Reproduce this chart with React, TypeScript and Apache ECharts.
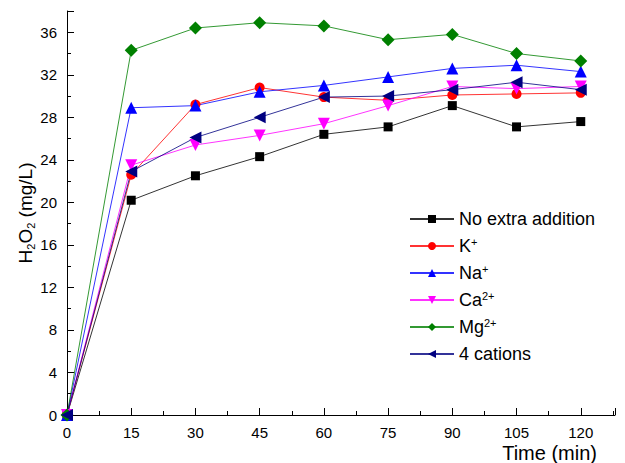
import React, { useEffect, useRef } from "react";
import * as echarts from "echarts";

const times = [0, 15, 30, 45, 60, 75, 90, 105, 120];
const noExtra = [0, 20.2, 22.5, 24.3, 26.4, 27.1, 29.1, 27.1, 27.6];
const kPlus = [0, 22.6, 29.2, 30.8, 29.9, 29.6, 30.1, 30.2, 30.3];
const naPlus = [0, 28.9, 29.1, 30.4, 31.0, 31.8, 32.6, 32.9, 32.3];
const ca2Plus = [0, 23.5, 25.4, 26.3, 27.4, 29.1, 30.9, 30.7, 30.9];
const mg2Plus = [0, 34.3, 36.4, 36.9, 36.6, 35.3, 35.8, 34.0, 33.3];
const fourCations = [0, 22.9, 26.1, 28.0, 29.9, 30.0, 30.6, 31.3, 30.6];

const seriesNames = ["No extra addition", "K+", "Na+", "Ca2+", "Mg2+", "4 cations"];
const legendLabels: Record<string, string> = {
  "No extra addition": "No extra addition",
  "K+": "K{sup|+}",
  "Na+": "Na{sup|+}",
  "Ca2+": "Ca{sup|2+}",
  "Mg2+": "Mg{sup|2+}",
  "4 cations": "4 cations",
};

const FONT = "'Liberation Sans', Arial, sans-serif";

export default function App() {
  const ref = useRef<HTMLDivElement>(null);
  useEffect(() => {
    if (!ref.current) return;
    const chart = echarts.init(ref.current, undefined, { renderer: "svg" });
    const mk = (
      name: string,
      data: number[],
      color: string,
      symbol: string,
      size: number,
      rotate = 0
    ) => ({
      name,
      type: "line",
      data: times.map((t, i) => [t, data[i]]),
      symbol,
      symbolSize: size,
      symbolRotate: rotate,
      lineStyle: { color, width: 1, opacity: 0.8 },
      itemStyle: { color },
      color,
    });
    chart.setOption({
      animation: false,
      backgroundColor: "#ffffff",
      grid: { left: 67, right: 10, top: 11, bottom: 48, outerBoundsMode: "none", containLabel: false },
      xAxis: {
        type: "value",
        min: 0,
        max: 128,
        interval: 15,
        name: "Time (min)",
        nameLocation: "end",
        nameGap: -18,
        nameMoveOverlap: false,
        nameTextStyle: {
          fontFamily: FONT,
          fontSize: 20,
          color: "#000",
          align: "right",
          verticalAlign: "top",
          padding: [28, 0, 0, 0],
        },
        axisLine: { lineStyle: { color: "#000", width: 1 } },
        axisTick: { inside: true, length: 7, lineStyle: { color: "#000" } },
        minorTick: { show: true, splitNumber: 2, length: 4, lineStyle: { color: "#000" } },
        axisLabel: {
          fontFamily: FONT,
          fontSize: 15,
          color: "#000",
          margin: 10,
          showMaxLabel: false,
        },
        splitLine: { show: false },
      },
      yAxis: {
        type: "value",
        min: 0,
        max: 38,
        interval: 4,
        name: "H{sub|2}O{sub|2} (mg/L)",
        nameLocation: "middle",
        nameGap: 31,
        nameMoveOverlap: false,
        nameRotate: 90,
        nameTextStyle: {
          fontFamily: FONT,
          fontSize: 19,
          color: "#000",
          lineHeight: 22,
          rich: {
            sub: {
              fontFamily: FONT,
              fontSize: 11,
              color: "#000",
              verticalAlign: "bottom",
              lineHeight: 11,
            },
          },
        },
        axisLine: { show: true, lineStyle: { color: "#000", width: 1 } },
        axisTick: { inside: true, length: 7, lineStyle: { color: "#000" } },
        minorTick: { show: true, splitNumber: 2, length: 4, lineStyle: { color: "#000" } },
        axisLabel: { fontFamily: FONT, fontSize: 15, color: "#000", margin: 10, showMaxLabel: false },
        splitLine: { show: false },
      },
      legend: {
        orient: "vertical",
        left: 404,
        top: 204,
        itemWidth: 44,
        itemHeight: 10,
        itemGap: 7,
        data: seriesNames,
        formatter: (n: string) => legendLabels[n] ?? n,
        textStyle: {
          fontFamily: FONT,
          fontSize: 18,
          color: "#000",
          lineHeight: 20,
          rich: {
            sup: {
              fontFamily: FONT,
              fontSize: 11,
              color: "#000",
              verticalAlign: "top",
              lineHeight: 11,
            },
          },
        },
      },
      series: [
        mk("No extra addition", noExtra, "#000000", "rect", 9),
        mk("K+", kPlus, "#ff0000", "circle", 10),
        mk("Na+", naPlus, "#0000ff", "triangle", 12),
        mk("Ca2+", ca2Plus, "#ff00ff", "triangle", 12, 180),
        mk("Mg2+", mg2Plus, "#008000", "diamond", 13),
        mk("4 cations", fourCations, "#000080", "triangle", 12, 90),
      ],
    });
    return () => chart.dispose();
  }, []);
  return <div ref={ref} style={{ width: 625, height: 463, position: "absolute", left: 0, top: 0 }} />;
}
